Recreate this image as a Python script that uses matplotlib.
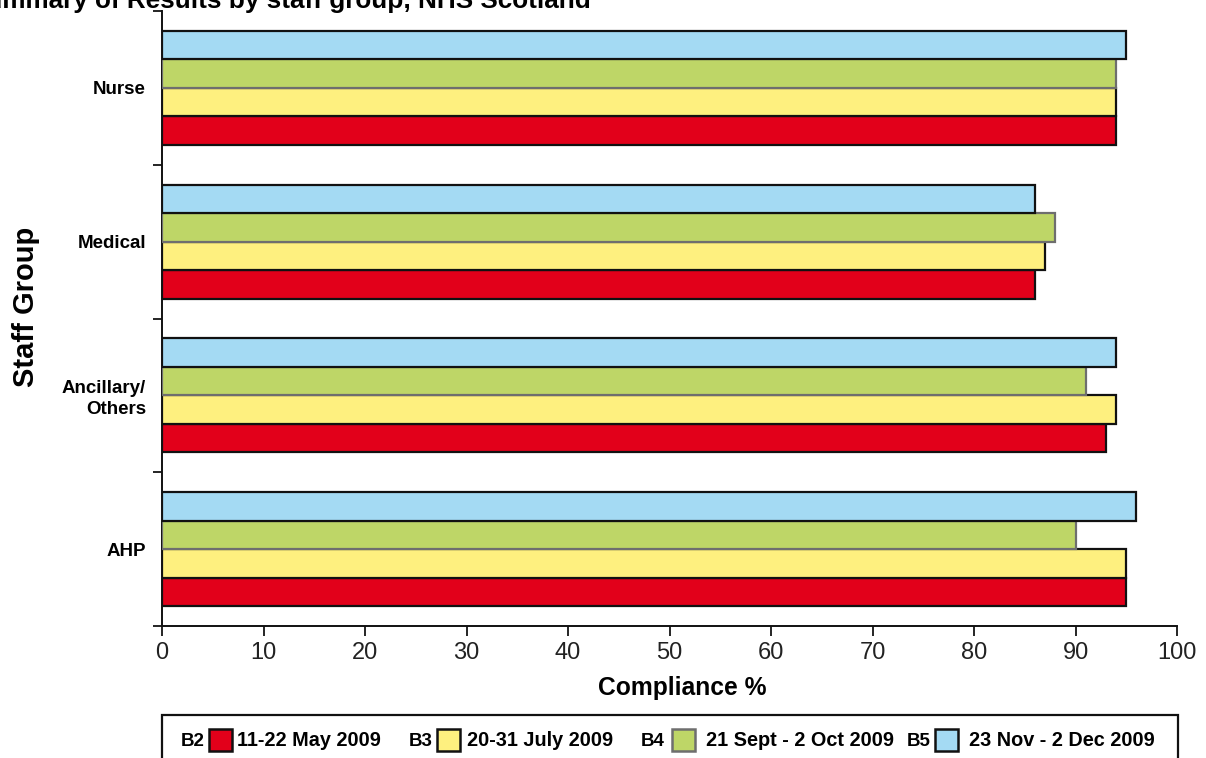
import matplotlib
matplotlib.use("Agg")
import matplotlib.pyplot as plt
from matplotlib.patches import Rectangle
from matplotlib import font_manager
import numpy as np

# ---- data -------------------------------------------------------------
groups = ["Nurse", "Medical", "Ancillary/\nOthers", "AHP"]
b2_may = [94, 86, 93, 95]
b3_july = [94, 87, 94, 95]
b4_sept = [94, 88, 91, 90]
b5_nov = [95, 86, 94, 96]
round_codes = ["B2", "B3", "B4", "B5"]
round_dates = ["11-22 May 2009", "20-31 July 2009",
               "21 Sept - 2 Oct 2009", "23 Nov - 2 Dec 2009"]
x_ticks = [0, 10, 20, 30, 40, 50, 60, 70, 80, 90, 100]

# ---- style ------------------------------------------------------------
colors = ["#E2001A", "#FEF07F", "#BED667", "#A4DAF3"]
edges = ["#111111", "#111111", "#6E6E6E", "#111111"]


def have_font(name):
    return any(f.name == name for f in font_manager.fontManager.ttflist)


SANS = "Liberation Sans" if have_font("Liberation Sans") else "DejaVu Sans"

W, H = 1206, 758
fig = plt.figure(figsize=(W / 100, H / 100), dpi=100)
fig.patch.set_facecolor("white")


def fx(px):
    return px / W


def fy(py):
    return 1 - py / H


ax = fig.add_axes([fx(162), fy(626), fx(1177) - fx(162), fy(11) - fy(626)])

series = [b2_may, b3_july, b4_sept, b5_nov]
n = len(groups)
bar_h = 0.185
centers = np.arange(n) + 0.5
# red at the bottom of each group, blue on top (y axis is inverted)
offsets = [1.5, 0.5, -0.5, -1.5]
for vals, c, ec, off in zip(series, colors, edges, offsets):
    ax.barh(centers + off * bar_h, vals, height=bar_h, color=c,
            edgecolor=ec, linewidth=1.6, zorder=3)

ax.set_xlim(0, 100)
ax.set_ylim(n, 0)

for s in ["top", "right"]:
    ax.spines[s].set_visible(False)
for s in ["left", "bottom"]:
    ax.spines[s].set_linewidth(1.4)
    ax.spines[s].set_color("#111111")

ax.set_xticks(x_ticks)
ax.set_xticklabels([str(v) for v in x_ticks], fontfamily=SANS,
                   fontsize=17, color="#222222")
ax.tick_params(axis="x", direction="out", length=7.2, width=1.2, pad=4)

ax.set_yticks(np.arange(n + 1))
ax.set_yticklabels([])
ax.tick_params(axis="y", which="major", direction="out", length=6.5, width=1.2)
ax.set_yticks(centers, minor=True)
ax.set_yticklabels(groups, minor=True, fontfamily=SANS, fontweight="bold",
                   fontsize=13.5, ha="right", linespacing=1.3)
ax.tick_params(axis="y", which="minor", length=0, pad=11.5)

fig.text(fx(682), fy(695), "Compliance %", ha="center", va="baseline",
         fontfamily=SANS, fontweight="bold", fontsize=17.7)
fig.text(fx(26), fy(307), "Staff Group", rotation=90, ha="center",
         va="center", fontfamily=SANS, fontweight="bold", fontsize=21)

# title, running off the top-left edge
fig.text(fx(591), fy(8), "Summary of Results by staff group, NHS Scotland",
         ha="right", va="baseline", fontfamily=SANS, fontweight="bold",
         fontsize=18.8)

# ---- legend box along the bottom -------------------------------------
box = Rectangle((fx(162), fy(800)), fx(1178) - fx(162), fy(715) - fy(800),
                transform=fig.transFigure, facecolor="white",
                edgecolor="#111111", linewidth=1.6, clip_on=False)
fig.patches.append(box)

code_x = [181, 409, 641, 907]
swatch_x = [209, 437, 672, 935]
date_x = [237, 467, 706, 969]
base_y = 746
for code, date, c, ec, cx, sx, dx in zip(round_codes, round_dates, colors,
                                         edges, code_x, swatch_x, date_x):
    fig.text(fx(cx), fy(base_y), code, ha="left", va="baseline",
             fontfamily=SANS, fontweight="bold", fontsize=13.5)
    fig.patches.append(Rectangle((fx(sx), fy(751)), fx(23), 22 / H,
                                 transform=fig.transFigure, facecolor=c,
                                 edgecolor=ec, linewidth=1.8))
    fig.text(fx(dx), fy(base_y), date, ha="left", va="baseline",
             fontfamily=SANS, fontweight="bold", fontsize=14.3)

fig.savefig("out.png", dpi=100, facecolor="white")
